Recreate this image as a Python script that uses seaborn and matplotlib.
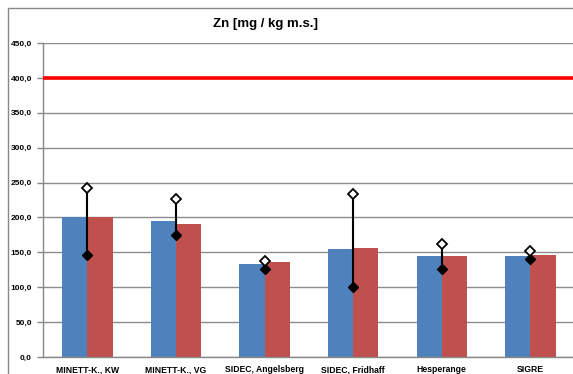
import matplotlib
matplotlib.use("Agg")
import matplotlib.pyplot as plt
import numpy as np
import pandas as pd
import seaborn as sns
from matplotlib.patches import Rectangle

sites = ["MINETT-K., KW", "MINETT-K., VG", "SIDEC, Angelsberg",
         "SIDEC, Fridhaff", "Hesperange", "SIGRE"]
series_a = [201, 195, 133, 155, 145, 145]
series_b = [200, 190, 136, 156, 145, 146]
max_vals = [242, 226, 138, 233, 162, 152]
min_vals = [146, 175, 126, 101, 126, 140]
limit = 400
yticks = np.arange(0, 451, 50)

df = pd.DataFrame({
    "site": sites * 2,
    "value": series_a + series_b,
    "series": ["A"] * len(sites) + ["B"] * len(sites),
})

sns.set_style("white")
plt.rcParams["font.family"] = ["Liberation Sans", "DejaVu Sans"]
plt.rcParams["text.color"] = "black"
plt.rcParams["xtick.labelcolor"] = "black"
plt.rcParams["ytick.labelcolor"] = "black"

fig = plt.figure(figsize=(5.73, 3.74), dpi=100)
ax = fig.add_axes([0.075, 0.0455, 0.928, 0.8395])

sns.barplot(data=df, x="site", y="value", hue="series", order=sites,
            palette=["#4F81BD", "#C0504D"], width=0.57, gap=0,
            saturation=1, legend=False, linewidth=0, ax=ax)

ax.set_ylim(0, 450)
ax.set_xlim(-0.5, len(sites) - 0.5)
ax.set_yticks(yticks)
ax.set_yticklabels([f"{v:.1f}".replace(".", ",") for v in yticks],
                   fontsize=6, fontweight="bold")
ax.set_xticks(range(len(sites)))
ax.set_xticklabels(sites, fontsize=6.2, fontweight="bold")
ax.set_xticks(np.arange(0.5, len(sites) - 0.5, 1), minor=True)
ax.tick_params(axis="x", which="major", length=0, pad=6)
ax.tick_params(axis="x", which="minor", length=3, color="#888888", width=1)
ax.tick_params(axis="y", length=4, color="#888888", width=1, pad=4, left=True)
ax.set_xlabel("")
ax.set_ylabel("")

ax.grid(axis="y", color="#8c8c8c", linewidth=1)
ax.set_axisbelow(True)
for s in ["top", "right"]:
    ax.spines[s].set_visible(False)
for s in ["left", "bottom"]:
    ax.spines[s].set_color("#888888")
    ax.spines[s].set_linewidth(1)

ax.axhline(limit, color="#FF0000", linewidth=2.6, zorder=3)

pos = np.arange(len(sites))
ax.vlines(pos, min_vals, max_vals, color="black", linewidth=1.5, zorder=4)
ax.plot(pos, min_vals, linestyle="none", marker="D", markersize=5,
        color="black", zorder=5)
ax.plot(pos, max_vals, linestyle="none", marker="D", markersize=5,
        markerfacecolor="white", markeredgecolor="black",
        markeredgewidth=1.3, zorder=5)

# outer chart frame (runs off the right and bottom edges)
fig.patches.append(Rectangle((8 / 573, -0.1), 1.2, 1.1 - 8 / 374,
                             transform=fig.transFigure, fill=False,
                             edgecolor="#888888", linewidth=1))

fig.text(0.4625, 0.936, "Zn [mg / kg m.s.]", ha="center", va="center",
         fontsize=9.5, fontweight="bold", color="black")

fig.savefig("out.png", dpi=100)
